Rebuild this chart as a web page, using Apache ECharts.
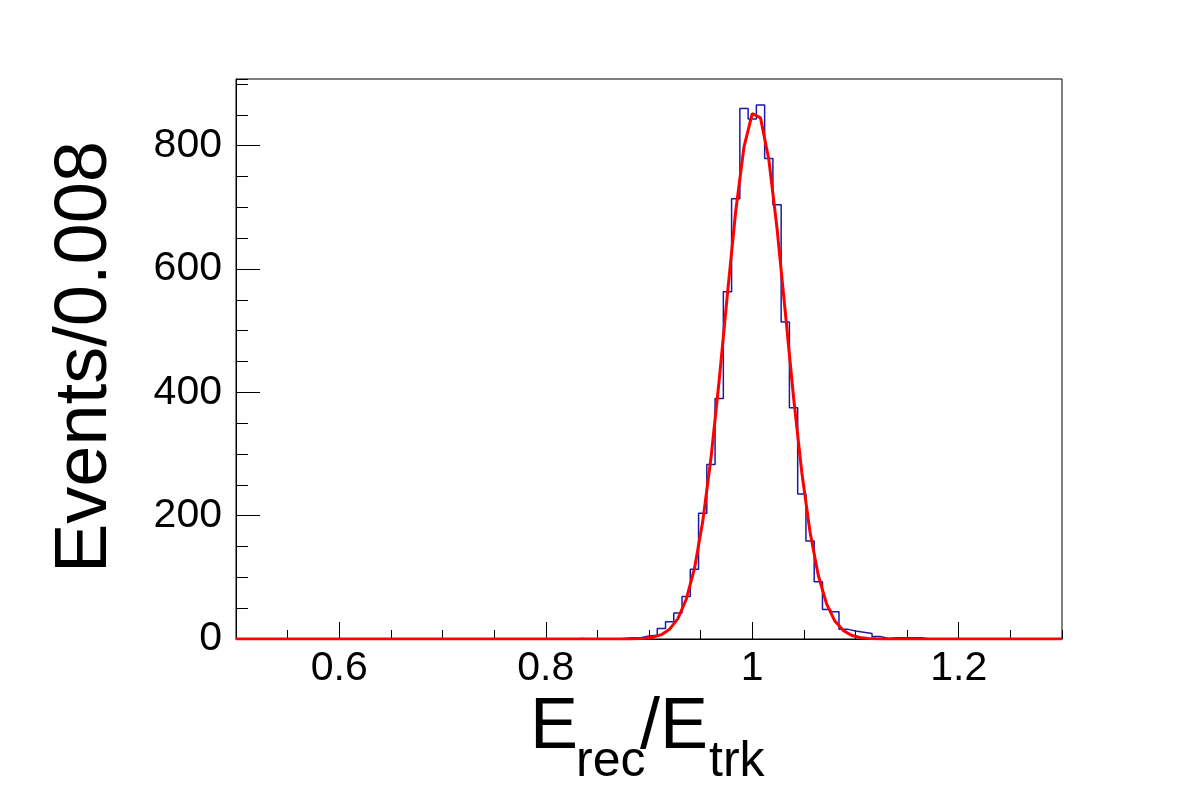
<!DOCTYPE html>
<html>
<head>
<meta charset="utf-8">
<script src="https://cdn.jsdelivr.net/npm/echarts@6/dist/echarts.min.js"></script>
<style>
  html, body { margin: 0; padding: 0; background: #fff; }
  #chart { width: 1182px; height: 800px; }
</style>
</head>
<body>
<div id="chart"></div>
<script>
// histogram: 100 bins of 0.008 from 0.5 to 1.3
const binStart = 0.5
const binWidth = 0.008
const counts = [
  0, 0, 0, 0, 0, 0, 0, 0, 0, 0,
  0, 0, 0, 0, 0, 0, 0, 0, 0, 0,
  0, 0, 0, 0, 0, 0, 0, 0, 0, 0,
  0, 0, 0, 0, 0, 0, 0, 0, 0, 0,
  0, 1, 0, 0, 0, 0, 1, 2, 2, 5,
  6, 17, 28, 42, 69, 113, 204, 283, 390, 563,
  714, 860, 843, 866, 779, 704, 514, 375, 235, 159,
  93, 48, 44, 16, 13, 11, 9, 4, 1, 2,
  2, 2, 2, 0, 0, 0, 0, 0, 0, 0,
  0, 0, 0, 0, 0, 0, 0, 0, 0, 0
]

// fitted curve
const fitX = [0.5, 0.872, 0.880, 0.888, 0.896, 0.904, 0.912, 0.920, 0.928, 0.936,
  0.944, 0.952, 0.960, 0.968, 0.976, 0.984, 0.992, 1.000, 1.008, 1.016,
  1.024, 1.032, 1.040, 1.048, 1.056, 1.064, 1.072, 1.080, 1.088, 1.096,
  1.104, 1.112, 1.120, 1.128, 1.136, 1.3]
const fitY = [0, 0.1, 0.2, 0.5, 1.2, 3, 7, 16, 33, 64,
  114, 190, 293, 420, 560, 694, 798, 852, 845, 778,
  666, 530, 392, 270, 173, 103, 57, 29, 14, 6,
  2.5, 1, 0.4, 0.1, 0, 0]

const xMajor = [0.6, 0.8, 1.0, 1.2]
const yMajor = [0, 200, 400, 600, 800]

const histData = counts.map((c, i) => [binStart + i * binWidth, c])
histData.push([binStart + counts.length * binWidth, counts[counts.length - 1]])
const fitData = fitX.map((x, i) => [x, fitY[i]])

const font = '"Liberation Sans", Arial, Helvetica, sans-serif'
const chart = echarts.init(document.getElementById('chart'))

const xBase = { type: 'value', min: 0.5, max: 1.3, position: 'bottom', splitLine: { show: false } }
const yBase = { type: 'value', min: 0, max: 908, position: 'left', splitLine: { show: false } }

chart.setOption({
  animation: false,
  backgroundColor: '#fff',
  grid: {
    left: 236, top: 79, width: 826, height: 560,
    show: true, borderColor: '#000', borderWidth: 1
  },
  xAxis: [
    {
      ...xBase,
      axisLine: { show: true, lineStyle: { color: '#000', width: 1 } },
      axisTick: { show: true, inside: true, length: 17, customValues: xMajor, lineStyle: { color: '#000', width: 1 } },
      axisLabel: { show: true, customValues: xMajor, margin: 9, fontSize: 41, fontFamily: font, color: '#000' }
    },
    {
      ...xBase,
      interval: 0.05,
      axisLine: { show: false },
      axisTick: { show: true, inside: true, length: 9, lineStyle: { color: '#000', width: 1 } },
      axisLabel: { show: false }
    }
  ],
  yAxis: [
    {
      ...yBase,
      axisLine: { show: true, lineStyle: { color: '#000', width: 1 } },
      axisTick: { show: true, inside: true, length: 24, customValues: yMajor, lineStyle: { color: '#000', width: 1 } },
      axisLabel: { show: true, customValues: yMajor, margin: 14, fontSize: 41, fontFamily: font, color: '#000' }
    },
    {
      ...yBase,
      interval: 50,
      axisLine: { show: false },
      axisTick: { show: true, inside: true, length: 12, lineStyle: { color: '#000', width: 1 } },
      axisLabel: { show: false }
    }
  ],
  series: [
    {
      name: 'hist',
      type: 'line',
      step: 'end',
      data: histData,
      symbol: 'none',
      lineStyle: { color: '#1a1aa8', width: 1.5 },
      z: 2
    },
    {
      name: 'fit',
      type: 'line',
      data: fitData,
      symbol: 'none',
      lineStyle: { color: '#ff0000', width: 3 },
      z: 3
    }
  ],
  graphic: [
    {
      type: 'text', x: 86, y: 357, rotation: Math.PI / 2,
      style: { text: 'Events/0.008', fontSize: 74, fontFamily: font, fill: '#000', align: 'center', verticalAlign: 'middle' }
    },
    { type: 'text', x: 530, y: 728, style: { text: 'E', fontSize: 72, fontFamily: font, fill: '#000', align: 'left', verticalAlign: 'middle' } },
    { type: 'text', x: 576, y: 762, style: { text: 'rec', fontSize: 50, fontFamily: font, fill: '#000', align: 'left', verticalAlign: 'middle' } },
    { type: 'text', x: 640, y: 728, style: { text: '/', fontSize: 72, fontFamily: font, fill: '#000', align: 'left', verticalAlign: 'middle' } },
    { type: 'text', x: 660, y: 728, style: { text: 'E', fontSize: 72, fontFamily: font, fill: '#000', align: 'left', verticalAlign: 'middle' } },
    { type: 'text', x: 709, y: 762, style: { text: 'trk', fontSize: 50, fontFamily: font, fill: '#000', align: 'left', verticalAlign: 'middle' } }
  ]
})
</script>
</body>
</html>
